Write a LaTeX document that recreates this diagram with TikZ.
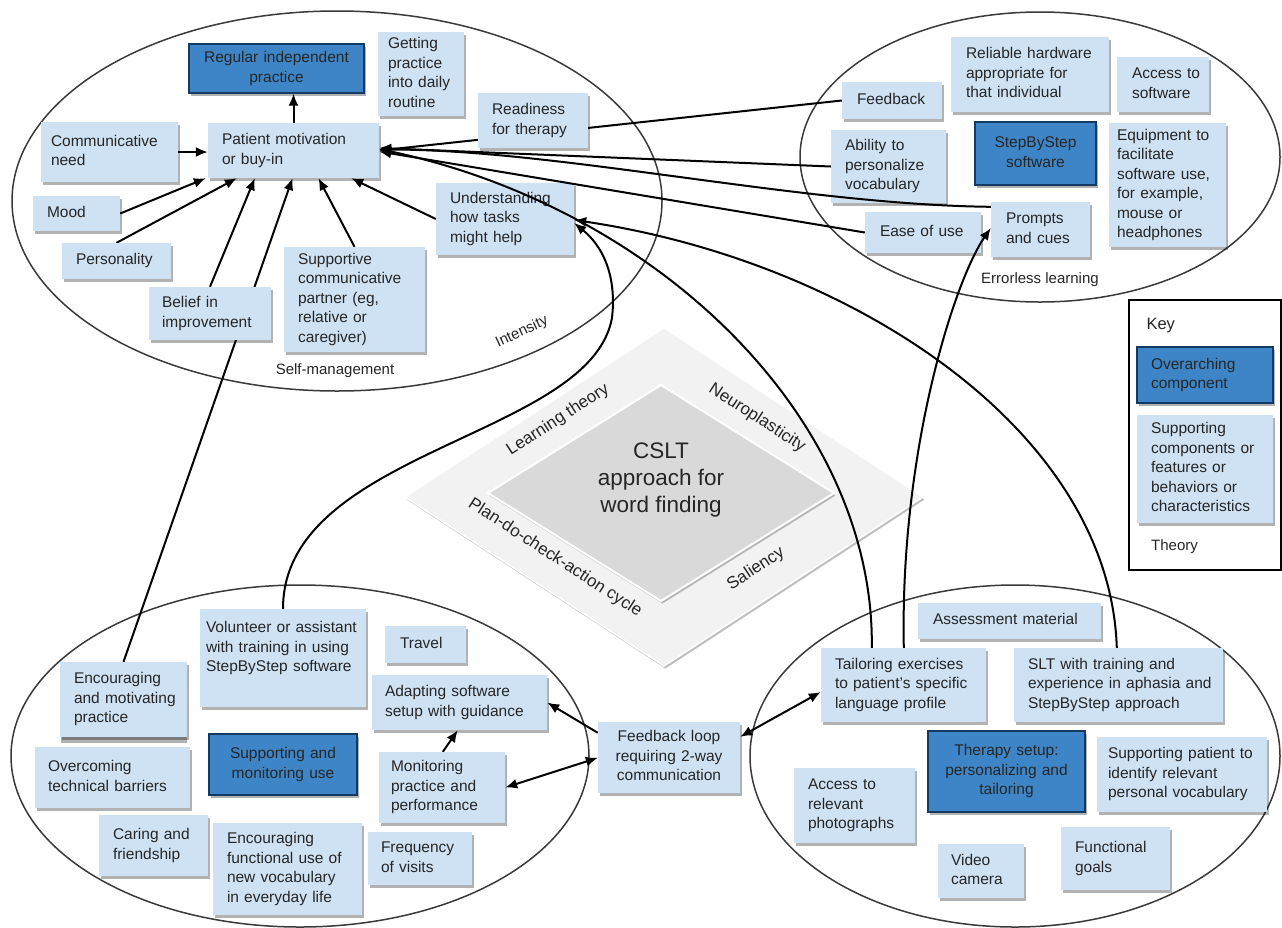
\documentclass[tikz,border=0pt]{standalone}
\usepackage{fontspec}
\setmainfont{Liberation Sans}
\usetikzlibrary{arrows.meta,shadows}
\definecolor{lb}{HTML}{CFE2F3}
\definecolor{db}{HTML}{3D85C6}
\definecolor{dbd}{HTML}{123A63}
\definecolor{txt}{HTML}{262626}
\definecolor{ellc}{HTML}{3A3A3A}
\definecolor{dout}{HTML}{F2F2F2}
\definecolor{din}{HTML}{D9D9D9}
\pgfdeclarelayer{bg}\pgfdeclarelayer{low}\pgfdeclarelayer{mid}
\pgfsetlayers{bg,low,mid,main}
\newcommand{\bxfont}{\fontsize{15.5}{19.5}\selectfont}
\newcommand{\bx}[9]{%
  \pgfmathsetmacro{\bxcx}{(#3+#5)/2}%
  \pgfmathsetmacro{\bxcy}{(#4+#6)/2}%
  \pgfmathsetmacro{\bxw}{#5-#3}%
  \pgfmathsetmacro{\bxh}{#6-#4}%
  \pgfmathsetmacro{\bxtw}{#5-#3-2*#7}%
  \node[#2, minimum width=\bxw pt, minimum height=\bxh pt, text width=\bxtw pt, inner xsep=#7pt] (#1) at (\bxcx,\bxcy) {\begin{tabular}{@{}#9@{}}#8\end{tabular}};%
}
\tikzset{
  shd/.style={drop shadow={shadow xshift=1.5pt,shadow yshift=-2.5pt,opacity=0.3,fill=black}},
  lbox/.style={rectangle, fill=lb, draw=none, align=left, inner ysep=2pt, font=\bxfont, text=txt, shd},
  dbox/.style={rectangle, fill=db, draw=dbd, line width=1.3pt, align=center, inner ysep=2pt, font=\bxfont, text=txt, shd},
  ell/.style={draw=ellc, line width=1.5pt},
  arr/.style={line width=2pt, -{Latex[length=12pt,width=10pt]}},
  darr/.style={line width=2pt, {Latex[length=12pt,width=10pt]}-{Latex[length=12pt,width=10pt]}},
  lab/.style={font=\fontsize{15}{18}\selectfont, text=txt, inner sep=1pt},
  theory/.style={font=\fontsize{17}{20}\selectfont, text=txt, inner sep=0pt},
}
\begin{document}
\begin{tikzpicture}[x=1pt,y=-1pt]
\useasboundingbox (0,0) rectangle (1282,927);
\begin{pgfonlayer}{bg}
\fill[white] (0,0) rectangle (1282,927);
% ellipses
\draw[ell] (337,201) ellipse [x radius=325pt, y radius=190pt];
\draw[ell] (1040,157) ellipse [x radius=240pt, y radius=145pt];
\draw[ell] (300,756) ellipse [x radius=289pt, y radius=171pt];
\draw[ell] (1015,756) ellipse [x radius=265pt, y radius=171pt];
% diamond
\filldraw[fill=dout, draw=white, line width=1.5pt, drop shadow={shadow xshift=1.5pt,shadow yshift=-2.5pt,opacity=0.25,fill=black}]
  (664,328) -- (923,497) -- (664,666) -- (405,497) -- cycle;
\filldraw[fill=din, draw=white, line width=2pt, drop shadow={shadow xshift=1.5pt,shadow yshift=-2.5pt,opacity=0.25,fill=black}]
  (661,385) -- (834,493) -- (661,601) -- (488,493) -- cycle;
\end{pgfonlayer}

% diamond texts
\node[font=\fontsize{22.5}{27}\selectfont, align=center, text=txt, inner sep=0pt] (cslt) at (661,480) {CSLT\\approach for\\word finding};
\node[theory, rotate=33] (lt) at (558,420) {Learning theory};
\node[theory, rotate=-33] (np) at (757,418) {Neuroplasticity};
\node[theory, rotate=-33] (pdca) at (555,558) {Plan-do-check-action cycle};
\node[theory, rotate=33] (sal) at (756,569) {Saliency};

% ellipse labels
\node[lab] (selfm) at (335,371) {Self-management};
\node[lab, rotate=25] (inten) at (522,332) {Intensity};
\node[lab] (errl) at (1040,280) {Errorless learning};

% top-left boxes
\bx{rip}{dbox}{189}{44}{364}{93}{6}{Regular independent\\practice}{c}
\bx{getting}{lbox}{378}{32}{464}{116}{10}{Getting\\practice\\into daily\\routine}{l}
\bx{pm}{lbox}{208}{123}{379}{178}{14}{Patient motivation\\or buy-in}{l}
\bx{comm}{lbox}{41}{122}{178}{182}{10}{Communicative\\need}{l}
\bx{ready}{lbox}{478}{93}{588}{148}{14}{Readiness\\for therapy}{l}
\bx{mood}{lbox}{33}{196}{120}{231}{14}{Mood}{l}
\bx{pers}{lbox}{62}{243}{171}{279}{14}{Personality}{l}
\bx{belief}{lbox}{149}{287}{271}{340}{13}{Belief in\\improvement}{l}
\bx{supp}{lbox}{284}{247}{425}{352}{14}{Supportive\\communicative\\partner (eg,\\relative or\\caregiver)}{l}
\begin{pgfonlayer}{low}
\bx{und}{lbox}{436}{183}{574}{255}{14}{Understanding\\how tasks\\might help}{l}
\bx{abil}{lbox}{831}{130}{946}{203}{14}{Ability to\\personalize\\vocabulary}{l}
\bx{ease}{lbox}{865}{212}{981}{253}{15}{Ease of use}{l}
\end{pgfonlayer}

% top-right boxes
\bx{fb}{lbox}{842}{82}{942}{119}{15}{Feedback}{l}
\bx{rel}{lbox}{951}{37}{1109}{112}{15}{Reliable hardware\\appropriate for\\that individual}{l}
\bx{acc}{lbox}{1117}{57}{1209}{112}{15}{Access to\\software}{l}
\bx{sbs}{dbox}{975}{122}{1096}{185}{6}{StepByStep\\software}{c}
\bx{equip}{lbox}{1109}{123}{1226}{247}{8}{Equipment to\\facilitate\\software use,\\for example,\\mouse or\\headphones}{l}
\bx{prompts}{lbox}{991}{202}{1090}{257}{15}{Prompts\\and cues}{l}

% key
\draw[line width=1.3pt] (1129,300) rectangle (1281,570);
\node[font=\fontsize{16.5}{19}\selectfont, text=txt, anchor=west] (keyt) at (1143,326) {Key};
\bx{keyo}{dbox, align=left}{1137}{347}{1273}{403}{14}{Overarching\\component}{l}
\bx{keys}{lbox}{1137}{415}{1273}{523}{14}{Supporting\\components or\\features or\\behaviors or\\characteristics}{l}
\node[lab, anchor=west] (keyth) at (1150,547) {Theory};

% bottom-left boxes
\bx{vol}{lbox}{200}{609}{366}{707}{6}{Volunteer or assistant\\with training in using\\StepByStep software\\~}{l}
\bx{travel}{lbox}{385}{626}{466}{663}{15}{Travel}{l}
\fill[gray!60] (61,736) rectangle (187,743);
\bx{enc}{lbox}{60}{662}{187}{737}{14}{Encouraging\\and motivating\\practice}{l}
\bx{adapt}{lbox}{372}{675}{547}{730}{13}{Adapting software\\setup with guidance}{l}
\bx{overc}{lbox}{35}{747}{190}{808}{13}{Overcoming\\technical barriers}{l}
\bx{smu}{dbox}{209}{734}{357}{795}{6}{Supporting and\\monitoring use}{c}
\bx{mon}{lbox}{379}{752}{505}{823}{12}{Monitoring\\practice and\\performance}{l}
\bx{caring}{lbox}{99}{815}{208}{876}{14}{Caring and\\friendship}{l}
\bx{encf}{lbox}{213}{823}{362}{915}{14}{Encouraging\\functional use of\\new vocabulary\\in everyday life}{l}
\bx{freq}{lbox}{368}{832}{472}{885}{13}{Frequency\\of visits}{l}
\bx{fbl}{lbox, align=center}{598}{722}{740}{793}{4}{Feedback loop\\requiring 2-way\\communication}{c}

% bottom-right boxes
\bx{assess}{lbox}{918}{603}{1101}{639}{15}{Assessment material}{l}
\bx{tail}{lbox}{821}{648}{986}{722}{14}{Tailoring exercises\\to patient’s specific\\language profile}{l}
\bx{slt}{lbox}{1014}{648}{1223}{722}{14}{SLT with training and\\experience in aphasia and\\StepByStep approach}{l}
\bx{ther}{dbox}{928}{731}{1085}{812}{6}{Therapy setup:\\personalizing and\\tailoring}{c}
\bx{supppat}{lbox}{1097}{737}{1267}{812}{11}{Supporting patient to\\identify relevant\\personal vocabulary}{l}
\bx{photo}{lbox}{794}{768}{915}{843}{14}{Access to\\relevant\\photographs}{l}
\bx{video}{lbox}{938}{844}{1024}{898}{13}{Video\\camera}{l}
\bx{func}{lbox}{1061}{827}{1170}{890}{14}{Functional\\goals}{l}

\coordinate (volbend) at (612,318);

% connectors
\begin{pgfonlayer}{mid}
\draw[arr] (pm.north) -- (pm.north |- rip.south);
\draw[arr] (comm.east) -- (comm.east -| pm.west);
\draw[arr] (mood.east) -- ([xshift=-2pt]pm.south west);
\draw[arr] (pers.north) -- ([xshift=29pt]pm.south west);
\draw[arr] (belief.north) -- ([xshift=47pt]pm.south west);
\draw[arr] (enc.north) -- ([xshift=-1pt]pm.south);
\draw[arr] (supp.north) -- ([xshift=25pt]pm.south);
\draw[arr] (und.west) -- ([xshift=-28pt]pm.south east);
\draw[arr] (fb.west) -- (pm.east);
\draw[arr] (abil.west) -- ([yshift=2.5pt]pm.east);
\draw[arr] ([yshift=-5pt]prompts.north west) .. controls +(-191,-2) and +(181,0) .. ([yshift=1pt]pm.east);
\draw[arr] (ease.west) -- ([yshift=-1pt]pm.east);
\draw[arr] ([xshift=51pt]tail.north west) .. controls +(3,-228) and +(281,60) .. ([yshift=1.5pt]pm.east);
\draw[arr] ([xshift=83pt]tail.north west) .. controls +(-4,-198) and +(-36,52) .. ([yshift=1.5pt]prompts.west);
\draw[arr] ([xshift=103pt]slt.north west) .. controls +(-7,-218) and +(277,41) .. ([yshift=-1pt]und.east);
\draw[arr] (vol.north) .. controls +(0,-159) and +(-22,120) .. (volbend) .. controls +(5,-45) and +(27,22) .. ([yshift=-4pt]und.east);
\draw[arr] ([yshift=-11pt]fbl.north west) -- (adapt.east);
\draw[darr] (mon.east) -- ([yshift=-36pt]fbl.north west);
\draw[arr] ([xshift=64pt]mon.north west) -- ([xshift=86pt]adapt.south west);
\draw[darr] ([yshift=-15pt]fbl.north east) -- ([yshift=-7pt]tail.west);
\end{pgfonlayer}
\end{tikzpicture}
\end{document}
